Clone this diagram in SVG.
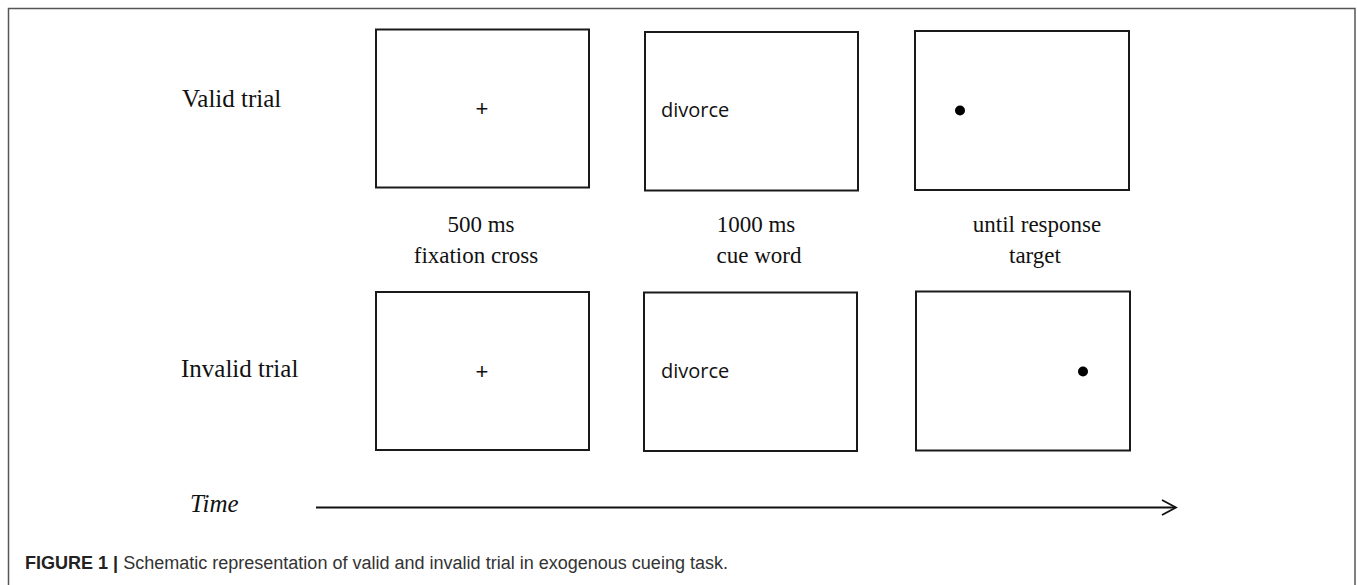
<svg xmlns="http://www.w3.org/2000/svg" width="1357" height="585" viewBox="0 0 1357 585">
<style>
.frame{fill:none;stroke:#555;stroke-width:1.5}
.box{fill:none;stroke:#1a1a1a;stroke-width:2}
.lab{font-family:"Liberation Serif","Times New Roman",serif;font-size:25px;fill:#111}
.dur{font-family:"Liberation Serif","Times New Roman",serif;font-size:23px;fill:#111;text-anchor:middle}
.word{font-family:"Open Sans","Liberation Sans",sans-serif;font-size:20px;fill:#111}
.plus{font-family:"Liberation Sans",Arial,sans-serif;font-size:22px;fill:#111;text-anchor:middle}
.dot{fill:#000}
.cap{font-family:"Liberation Sans",Arial,sans-serif;font-size:18px;fill:#333}
</style>
<rect x="0" y="0" width="1357" height="585" fill="#fff"/>
<path class="frame" d="M8.5,600 V8.5 H1355 V600"/>
<text class="lab" x="182" y="107">Valid trial</text>
<text class="lab" x="181" y="377">Invalid trial</text>
<g id="valid-fixation">
<rect class="box" x="376" y="29.5" width="213" height="158"/>
<text class="plus" x="482" y="116">+</text>
</g>
<g id="valid-cue">
<rect class="box" x="645" y="32" width="213" height="158.5"/>
<text class="word" x="661" y="117">divorce</text>
</g>
<g id="valid-target">
<rect class="box" x="915" y="31" width="214" height="159"/>
<circle class="dot" cx="960" cy="110.5" r="5"/>
</g>
<text class="dur" x="481" y="232">500 ms</text>
<text class="dur" x="476" y="263">fixation cross</text>
<text class="dur" x="756" y="232">1000 ms</text>
<text class="dur" x="759" y="263">cue word</text>
<text class="dur" x="1037" y="232">until response</text>
<text class="dur" x="1035" y="263">target</text>
<g id="invalid-fixation">
<rect class="box" x="376" y="292" width="213" height="158"/>
<text class="plus" x="482" y="379">+</text>
</g>
<g id="invalid-cue">
<rect class="box" x="644" y="292.5" width="213" height="158.5"/>
<text class="word" x="661" y="378">divorce</text>
</g>
<g id="invalid-target">
<rect class="box" x="916" y="291.5" width="214" height="159"/>
<circle class="dot" cx="1083" cy="371.5" r="5"/>
</g>
<text class="lab" x="190" y="512" font-style="italic">Time</text>
<g id="connectors" fill="none" stroke="#111" stroke-width="1.8">
<line x1="316" y1="507.5" x2="1175" y2="507.5"/>
<polyline points="1162,500 1176,507.5 1162,515"/>
</g>
<text class="cap" x="25" y="569" textLength="703" lengthAdjust="spacingAndGlyphs"><tspan font-weight="bold" fill="#222">FIGURE 1 |</tspan> Schematic representation of valid and invalid trial in exogenous cueing task.</text>
</svg>
